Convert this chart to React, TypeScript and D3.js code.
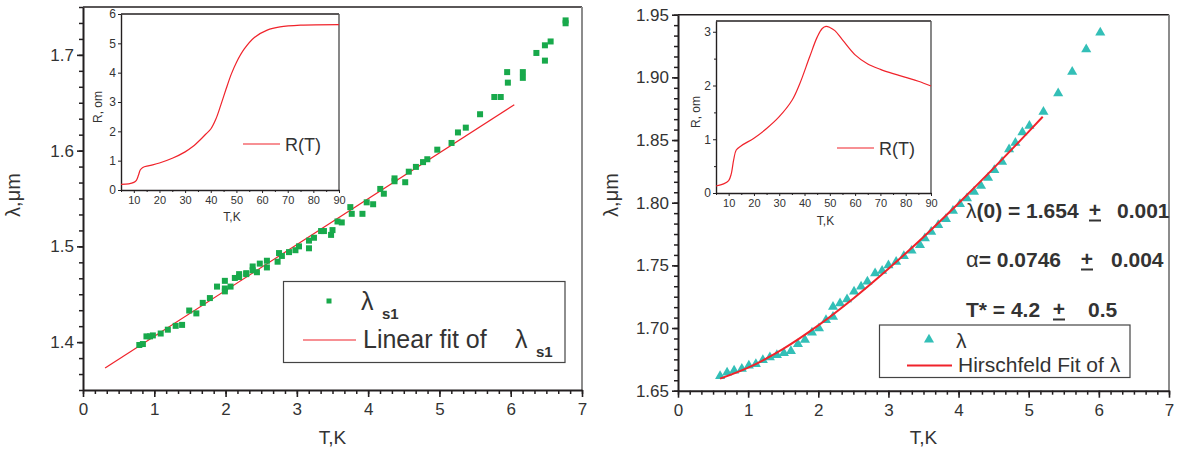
import React, { useEffect, useRef } from 'react';
import * as d3 from 'd3';

const FONT = '"Liberation Sans", Arial, Helvetica, sans-serif';

// ---- left panel: lambda_s1(T) with linear fit ----
const leftPoints: [number, number][] = [
  [0.79, 1.397], [0.84, 1.398], [0.89, 1.406], [0.94, 1.406], [0.98, 1.407], [1.09, 1.409],
  [1.19, 1.413], [1.30, 1.417], [1.39, 1.418], [1.49, 1.433], [1.59, 1.430], [1.68, 1.441],
  [1.78, 1.446], [1.88, 1.458], [1.99, 1.464], [1.99, 1.456], [1.99, 1.453], [2.07, 1.458],
  [2.13, 1.467], [2.19, 1.471], [2.19, 1.468], [2.29, 1.472], [2.29, 1.471], [2.38, 1.479],
  [2.38, 1.475], [2.44, 1.473], [2.48, 1.482], [2.58, 1.485], [2.58, 1.478], [2.73, 1.484],
  [2.75, 1.493], [2.79, 1.490], [2.89, 1.494], [2.98, 1.496], [3.03, 1.500], [3.17, 1.506],
  [3.17, 1.498], [3.24, 1.509], [3.34, 1.516], [3.38, 1.516], [3.48, 1.512], [3.50, 1.517],
  [3.57, 1.526], [3.63, 1.525], [3.75, 1.541], [3.77, 1.534], [3.92, 1.534], [3.98, 1.546],
  [4.07, 1.544], [4.17, 1.560], [4.22, 1.555], [4.37, 1.571], [4.37, 1.568], [4.52, 1.567],
  [4.57, 1.578], [4.67, 1.583], [4.77, 1.588], [4.83, 1.591], [4.97, 1.601], [5.17, 1.608],
  [5.26, 1.619], [5.37, 1.624], [5.57, 1.638], [5.77, 1.656], [5.86, 1.656], [5.95, 1.682],
  [5.96, 1.671], [6.17, 1.682], [6.17, 1.676], [6.36, 1.702], [6.48, 1.710], [6.48, 1.694],
  [6.56, 1.714], [6.77, 1.736], [6.77, 1.733],
];
const leftFit: [number, number][] = [[0.31, 1.373], [6.05, 1.648]];
const leftInsetR: [number, number][] = [
  [5, 0.19], [8, 0.21], [10, 0.26], [11, 0.33], [11.8, 0.5], [12.5, 0.68], [13.5, 0.77],
  [16, 0.83], [20, 0.92], [25, 1.08], [30, 1.3], [33, 1.48], [36, 1.72], [38, 1.9], [40, 2.08],
  [42, 2.42], [44, 2.92], [46, 3.45], [48, 3.95], [50, 4.35], [53, 4.8], [57, 5.2], [62, 5.45],
  [67, 5.56], [75, 5.62], [90, 5.64],
];

// ---- right panel: lambda(T) with Hirschfeld fit ----
const rightPoints: [number, number][] = [
  [0.60, 1.6617], [0.70, 1.6644], [0.80, 1.666], [0.91, 1.6675], [1.01, 1.670], [1.11, 1.6713],
  [1.21, 1.6745], [1.31, 1.6766], [1.41, 1.6785], [1.51, 1.680], [1.61, 1.6817], [1.71, 1.6872],
  [1.81, 1.6905], [1.91, 1.6963], [2.01, 1.6997], [2.11, 1.7064], [2.21, 1.717], [2.21, 1.709],
  [2.31, 1.7197], [2.41, 1.7229], [2.51, 1.729], [2.61, 1.733], [2.70, 1.737], [2.81, 1.7436],
  [2.91, 1.7457], [3.00, 1.750], [3.11, 1.7529], [3.22, 1.7574], [3.33, 1.7617], [3.45, 1.7662],
  [3.52, 1.7715], [3.61, 1.7768], [3.71, 1.7821], [3.82, 1.7869], [3.92, 1.7935], [4.02, 1.7989],
  [4.12, 1.8034], [4.22, 1.8087], [4.32, 1.8135], [4.42, 1.8199], [4.51, 1.826], [4.62, 1.8326],
  [4.72, 1.8425], [4.81, 1.8478], [4.91, 1.8561], [5.01, 1.8613], [5.21, 1.8725], [5.42, 1.8872],
  [5.62, 1.9044], [5.82, 1.9223], [6.02, 1.9358],
];
const rightFit: [number, number][] = [
  [0.6, 1.6596], [1.0, 1.6684], [1.5, 1.6834], [2.0, 1.7021], [2.5, 1.7236], [3.0, 1.7473],
  [3.5, 1.7727], [4.0, 1.7996], [4.5, 1.8276], [5.0, 1.8567], [5.2, 1.8686],
];
const rightInsetR: [number, number][] = [
  [5, 0.13], [8, 0.17], [10, 0.23], [11, 0.35], [12, 0.62], [13, 0.8], [15, 0.88], [20, 1.02],
  [25, 1.2], [30, 1.42], [35, 1.72], [38, 2.02], [42, 2.53], [45, 2.9], [47, 3.06], [48.5, 3.1],
  [50, 3.08], [52, 3.02], [55, 2.85], [60, 2.57], [65, 2.4], [70, 2.3], [75, 2.22], [80, 2.15],
  [85, 2.08], [90, 1.99],
];

// fit parameters shown on the right panel
const fitNames = ['λ(0)', 'α', 'T*'];
const fitValues = ['1.654', '0.0746', '4.2'];
const fitErrors = ['0.001', '0.004', '0.5'];

// ticks
const mainXTicks = [0, 1, 2, 3, 4, 5, 6, 7];
const leftYTicks = [1.4, 1.5, 1.6, 1.7];
const rightYTicks = [1.65, 1.7, 1.75, 1.8, 1.85, 1.9, 1.95];
const insetXTicks = [10, 20, 30, 40, 50, 60, 70, 80, 90];
const leftInsetYTicks = [0, 1, 2, 3, 4, 5, 6];
const rightInsetYTicks = [0, 1, 2, 3];

const GREEN = '#18a94b';
const TEAL = '#33bfb7';
const RED = '#f0232b';
const INK = '#231f20';

type Sel = d3.Selection<SVGSVGElement, unknown, null, undefined>;

function styleAxis(g: any, size: number) {
  g.attr('font-family', FONT).attr('font-size', size).attr('color', INK);
  g.selectAll('text').attr('fill', '#333');
}

function drawMain(svg: Sel, o: any) {
  const x = d3.scaleLinear().domain([0, 7]).range([o.left, o.right]);
  const y = d3.scaleLinear().domain(o.yDomain).range([o.bottom, o.top]);

  // frame
  svg.append('line').attr('x1', o.left).attr('x2', o.right).attr('y1', o.top).attr('y2', o.top)
    .attr('stroke', INK).attr('stroke-width', 1.6);
  svg.append('line').attr('x1', o.right).attr('x2', o.right).attr('y1', o.top).attr('y2', o.bottom)
    .attr('stroke', '#8c8c8c').attr('stroke-width', 2);

  // minor ticks
  const xMinor = d3.range(0, 7.0001, 1 / 6);
  const yStep = o.yMajor / 6;
  const yMinor = d3.range(o.yDomain[0], o.yDomain[1] + 1e-6, yStep);
  svg.append('g').attr('transform', `translate(0,${o.bottom})`)
    .call(d3.axisBottom(x).tickValues(xMinor).tickSize(4).tickSizeOuter(0).tickFormat(() => ''))
    .call((g: any) => { g.select('.domain').remove(); g.attr('color', INK); g.selectAll('line').attr('stroke-width', 1.5); });
  svg.append('g').attr('transform', `translate(${o.left},0)`)
    .call(d3.axisLeft(y).tickValues(yMinor).tickSize(4).tickSizeOuter(0).tickFormat(() => ''))
    .call((g: any) => { g.select('.domain').remove(); g.attr('color', INK); g.selectAll('line').attr('stroke-width', 1.5); });

  // major
  const gx = svg.append('g').attr('transform', `translate(0,${o.bottom})`)
    .call(d3.axisBottom(x).tickValues(mainXTicks).tickSize(7).tickSizeOuter(0).tickPadding(6).tickFormat(d3.format('d')));
  styleAxis(gx, 17);
  gx.select('.domain').attr('stroke-width', 2);
  gx.selectAll('line').attr('stroke-width', 1.6);
  const gy = svg.append('g').attr('transform', `translate(${o.left},0)`)
    .call(d3.axisLeft(y).tickValues(o.yTicks).tickSize(6).tickSizeOuter(0).tickPadding(3).tickFormat(d3.format(o.yFmt)));
  styleAxis(gy, 17);
  gy.select('.domain').attr('stroke-width', 2);
  gy.selectAll('line').attr('stroke-width', 1.6);

  // axis titles
  svg.append('text').text('T,K').attr('x', (o.left + o.right) / 2).attr('y', 444)
    .attr('text-anchor', 'middle').attr('font-family', FONT).attr('font-size', 19).attr('fill', '#333');
  svg.append('text').text('λ,μm').attr('transform', `translate(${o.yTitleX},195) rotate(-90)`)
    .attr('text-anchor', 'middle').attr('font-family', FONT).attr('font-size', 20).attr('fill', '#333');

  return { x, y };
}

function drawInset(svg: Sel, o: any, data: [number, number][]) {
  const x = d3.scaleLinear().domain([5, 90]).range([o.left, o.right]);
  const y = d3.scaleLinear().domain(o.yDomain).range([o.bottom, o.top]);
  svg.append('rect').attr('x', o.left).attr('y', o.top).attr('width', o.right - o.left)
    .attr('height', o.bottom - o.top).attr('fill', '#fff');
  svg.append('line').attr('x1', o.left).attr('x2', o.right).attr('y1', o.top).attr('y2', o.top)
    .attr('stroke', INK).attr('stroke-width', 1.4);
  svg.append('line').attr('x1', o.right).attr('x2', o.right).attr('y1', o.top).attr('y2', o.bottom)
    .attr('stroke', '#555').attr('stroke-width', 1.4);

  svg.append('g').attr('transform', `translate(0,${o.bottom})`)
    .call(d3.axisBottom(x).tickValues(d3.range(5, 90.1, 10)).tickSize(2).tickSizeOuter(0).tickFormat(() => ''))
    .call((g: any) => { g.select('.domain').remove(); g.attr('color', INK); });
  if (o.yMinor) {
    svg.append('g').attr('transform', `translate(${o.left},0)`)
      .call(d3.axisLeft(y).tickValues(o.yMinor).tickSize(2).tickSizeOuter(0).tickFormat(() => ''))
      .call((g: any) => { g.select('.domain').remove(); g.attr('color', INK); });
  }
  const gx = svg.append('g').attr('transform', `translate(0,${o.bottom})`)
    .call(d3.axisBottom(x).tickValues(insetXTicks).tickSize(3).tickSizeOuter(0).tickPadding(3).tickFormat(d3.format('d')));
  styleAxis(gx, 11);
  gx.select('.domain').attr('stroke-width', 1.4);
  const gy = svg.append('g').attr('transform', `translate(${o.left},0)`)
    .call(d3.axisLeft(y).tickValues(o.yTicks).tickSize(3).tickSizeOuter(0).tickPadding(2).tickFormat(d3.format('d')));
  styleAxis(gy, 12);
  gy.select('.domain').attr('stroke-width', 1.4);

  const line = d3.line<[number, number]>().x(d => x(d[0])).y(d => y(d[1])).curve(d3.curveCatmullRom.alpha(0.5));
  svg.append('path').attr('d', line(data)).attr('fill', 'none').attr('stroke', RED).attr('stroke-width', 1.2);

  svg.append('text').text('T,K').attr('x', (o.left + o.right) / 2 + 2).attr('y', o.xTitleY)
    .attr('text-anchor', 'middle').attr('font-family', FONT).attr('font-size', 12).attr('fill', '#333');
  svg.append('text').text('R, om').attr('transform', `translate(${o.yTitleX},${(o.top + o.bottom) / 2 + 5}) rotate(-90)`)
    .attr('text-anchor', 'middle').attr('font-family', FONT).attr('font-size', 12).attr('fill', '#333');

  // legend
  svg.append('line').attr('x1', o.legX).attr('x2', o.legX + 37).attr('y1', o.legY).attr('y2', o.legY)
    .attr('stroke', RED).attr('stroke-width', 1.2);
  svg.append('text').text('R(T)').attr('x', o.legX + 42).attr('y', o.legY + 7)
    .attr('font-family', FONT).attr('font-size', 18).attr('fill', '#333');
}

const App = () => {
  const ref = useRef<SVGSVGElement>(null);

  useEffect(() => {
    const svg = d3.select(ref.current as SVGSVGElement);
    svg.selectAll('*').remove();

    // ===== left panel =====
    const L = drawMain(svg, {
      left: 83, right: 582, top: 7, bottom: 390,
      yDomain: [1.35, 1.75], yTicks: leftYTicks, yMajor: 0.1, yFmt: '.1f', yTitleX: 20,
    });
    drawInset(svg, {
      left: 121, right: 339, top: 14, bottom: 190, yDomain: [0, 6], yTicks: leftInsetYTicks,
      xTitleY: 221, yTitleX: 102, legX: 243, legY: 144,
    }, leftInsetR);

    const fitLine = d3.line<[number, number]>().x(d => L.x(d[0])).y(d => L.y(d[1]));
    svg.append('path').attr('d', fitLine(leftFit)).attr('fill', 'none').attr('stroke', RED).attr('stroke-width', 1.2);
    svg.append('g').selectAll('rect').data(leftPoints).enter().append('rect')
      .attr('x', d => L.x(d[0]) - 3).attr('y', d => L.y(d[1]) - 3)
      .attr('width', 6).attr('height', 6).attr('fill', GREEN);

    // left legend
    svg.append('rect').attr('x', 283.5).attr('y', 281.5).attr('width', 281.5).attr('height', 81)
      .attr('fill', '#fff').attr('stroke', '#444').attr('stroke-width', 1.2);
    svg.append('rect').attr('x', 326.5).attr('y', 298.5).attr('width', 5).attr('height', 5).attr('fill', GREEN);
    svg.append('text').attr('x', 361).attr('y', 310).attr('font-family', FONT).attr('font-size', 25).attr('fill', '#333').text('λ');
    svg.append('text').attr('x', 382).attr('y', 319).attr('font-family', FONT).attr('font-size', 15).attr('font-weight', 'bold').attr('fill', '#333').text('s1');
    svg.append('line').attr('x1', 303).attr('x2', 356).attr('y1', 340).attr('y2', 340).attr('stroke', RED).attr('stroke-width', 1.2);
    svg.append('text').attr('x', 363).attr('y', 348).attr('font-family', FONT).attr('font-size', 25).attr('fill', '#333').text('Linear fit of');
    svg.append('text').attr('x', 515).attr('y', 348).attr('font-family', FONT).attr('font-size', 25).attr('fill', '#333').text('λ');
    svg.append('text').attr('x', 536).attr('y', 357).attr('font-family', FONT).attr('font-size', 15).attr('font-weight', 'bold').attr('fill', '#333').text('s1');

    // ===== right panel =====
    const R = drawMain(svg, {
      left: 678, right: 1169, top: 14.7, bottom: 390.7,
      yDomain: [1.65, 1.95], yTicks: rightYTicks, yMajor: 0.05, yFmt: '.2f', yTitleX: 618,
    });
    drawInset(svg, {
      left: 716, right: 931, top: 21, bottom: 193, yDomain: [0, 3.2], yTicks: rightInsetYTicks,
      yMinor: [0.5, 1.5, 2.5], xTitleY: 225, yTitleX: 700, legX: 837, legY: 148,
    }, rightInsetR);

    const hLine = d3.line<[number, number]>().x(d => R.x(d[0])).y(d => R.y(d[1])).curve(d3.curveMonotoneX);
    const tri = d3.symbol().type(d3.symbolTriangle).size(44);
    svg.append('g').selectAll('path').data(rightPoints).enter().append('path')
      .attr('d', tri() as string)
      .attr('transform', d => `translate(${R.x(d[0])},${R.y(d[1])})`)
      .attr('fill', TEAL);
    svg.append('path').attr('d', hLine(rightFit)).attr('fill', 'none').attr('stroke', RED).attr('stroke-width', 2);

    // fit parameters
    const rowY = [218, 267, 317];
    const plusX = [1095, 1087, 1059];
    const errX = [1117, 1111, 1088];
    fitNames.forEach((name, i) => {
      const t = svg.append('text').attr('x', 966).attr('y', rowY[i]).attr('font-family', FONT)
        .attr('font-size', 21).attr('fill', '#333');
      if (name === 'α') {
        t.append('tspan').text('α').attr('font-size', 22);
      } else if (name === 'λ(0)') {
        t.append('tspan').text('λ');
        t.append('tspan').text('(0)').attr('font-weight', 'bold');
      } else {
        t.append('tspan').text(name).attr('font-weight', 'bold');
      }
      t.append('tspan').text((name === 'α' ? '= ' : ' = ') + fitValues[i]).attr('font-weight', 'bold');
      svg.append('text').text('+').attr('x', plusX[i]).attr('y', rowY[i] - 1).attr('text-anchor', 'middle')
        .attr('font-family', FONT).attr('font-size', 21).attr('font-weight', 'bold').attr('fill', '#333');
      svg.append('line').attr('x1', plusX[i] - 6).attr('x2', plusX[i] + 6).attr('y1', rowY[i] + 2.5).attr('y2', rowY[i] + 2.5)
        .attr('stroke', '#333').attr('stroke-width', 2);
      svg.append('text').text(fitErrors[i]).attr('x', errX[i]).attr('y', rowY[i])
        .attr('font-family', FONT).attr('font-size', 21).attr('font-weight', 'bold').attr('fill', '#333');
    });

    // right legend
    svg.append('rect').attr('x', 879.5).attr('y', 325).attr('width', 250.5).attr('height', 52.5)
      .attr('fill', '#fff').attr('stroke', '#444').attr('stroke-width', 1.2);
    svg.append('path').attr('d', tri() as string).attr('transform', 'translate(929,339.5)').attr('fill', TEAL);
    svg.append('text').attr('x', 956).attr('y', 348).attr('font-family', FONT).attr('font-size', 21).attr('fill', '#333').text('λ');
    svg.append('line').attr('x1', 907).attr('x2', 952).attr('y1', 365.5).attr('y2', 365.5).attr('stroke', RED).attr('stroke-width', 2);
    svg.append('text').attr('x', 958).attr('y', 372).attr('font-family', FONT).attr('font-size', 21).attr('fill', '#333').text('Hirschfeld Fit of λ');
  }, []);

  return (
    <div style={{ position: 'absolute', left: 0, top: 0, background: '#fff' }}>
      <svg ref={ref} width={1177} height={453}></svg>
    </div>
  );
};

export default App;
